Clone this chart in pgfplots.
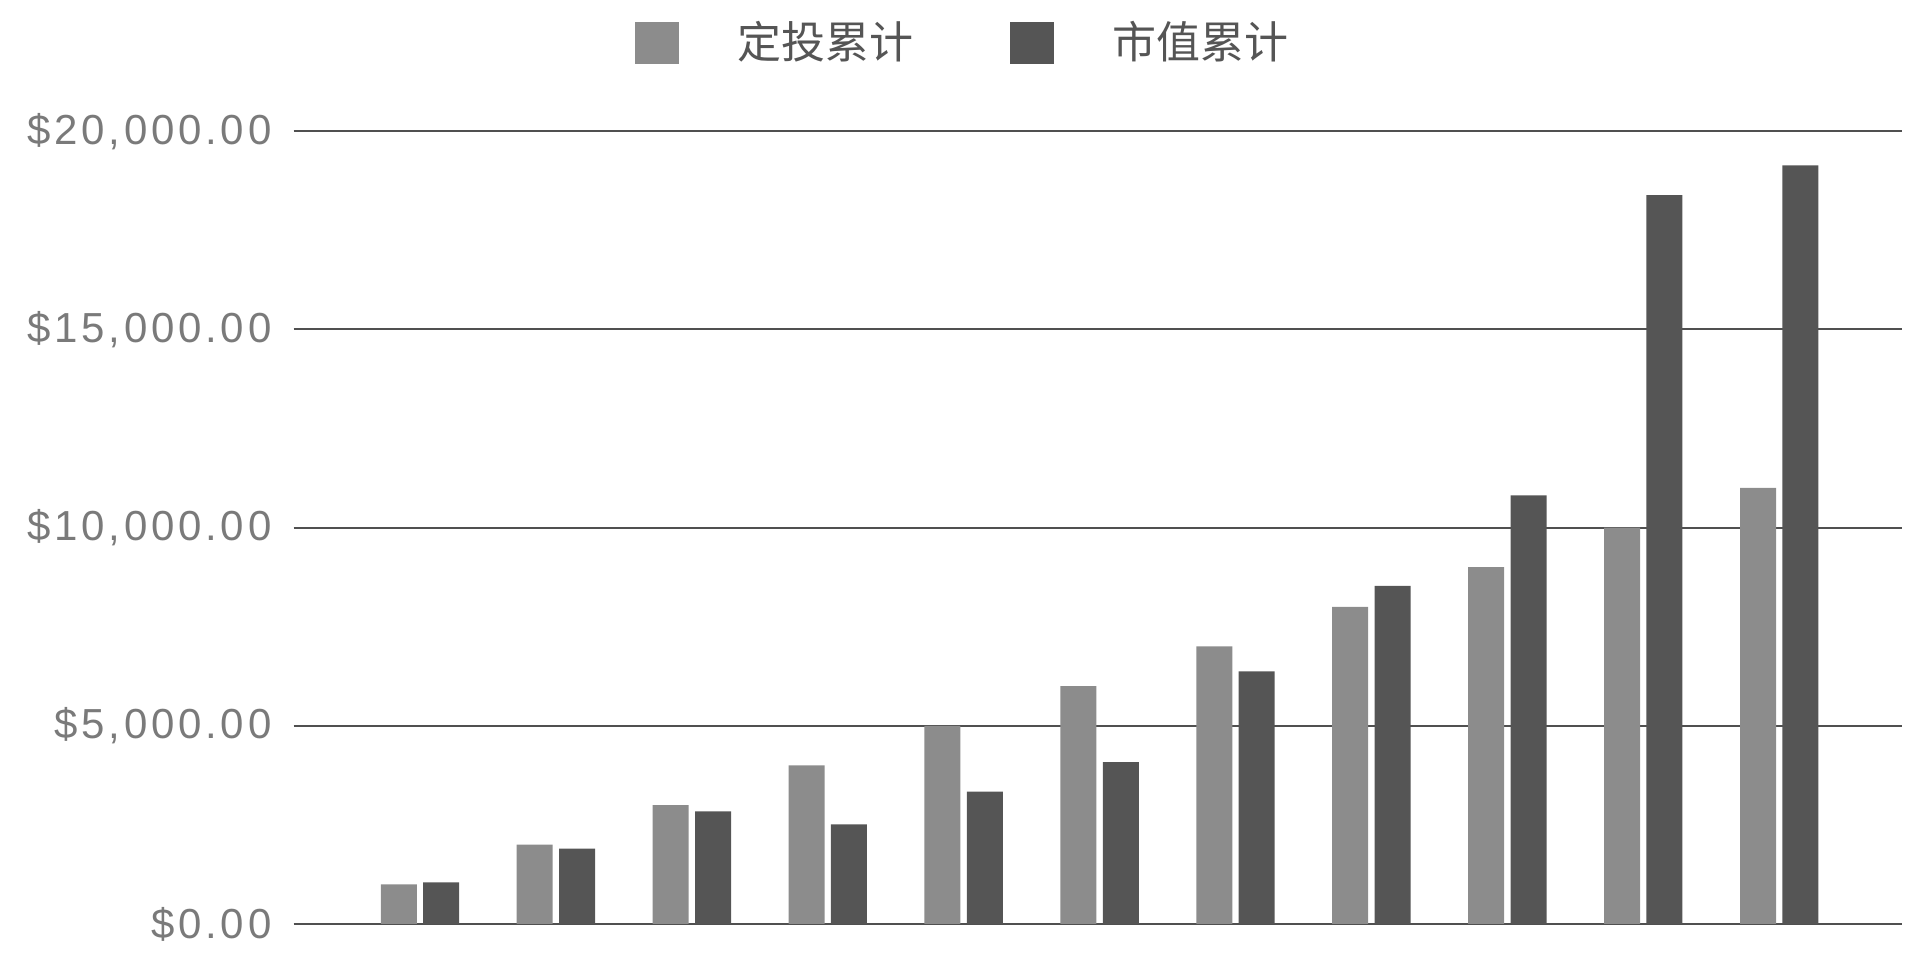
\documentclass[border=0pt]{standalone}
\usepackage{fontspec}
\setmainfont{Liberation Sans}
\newfontfamily\tickfont[LetterSpace=9]{Liberation Sans}
\newfontfamily\cjk{Noto Sans CJK SC}
\usepackage{pgfplots}
\pgfplotsset{compat=1.18}

\definecolor{invest}{HTML}{8C8C8C}
\definecolor{market}{HTML}{555555}
\definecolor{gridc}{HTML}{505050}
\definecolor{tickc}{HTML}{7A7A7A}

\begin{document}
\begin{tikzpicture}
\begin{axis}[
    scale only axis,
    width=402pt, height=198.2pt,
    ybar=1.6pt,
    bar width=9pt,
    xmin=-0.93, xmax=10.9,
    ymin=0, ymax=20000,
    xtick=\empty,
    ytick={0,5000,10000,15000,20000},
    scaled y ticks=false,
    yticklabels={{\$0.00},{\$5,000.00},{\$10,000.00},{\$15,000.00},{\$20,000.00}},
    yticklabel style={font=\tickfont\fontsize{10.5}{13}\selectfont, text=tickc, xshift=-2pt},
    major tick length=0pt,
    ymajorgrids,
    grid style={gridc, line width=0.5pt},
    axis line style={draw=none},
    clip=false,
    legend columns=2,
    legend style={at={(0.418,1.111)}, anchor=center, draw=none,
        font=\cjk\fontsize{11}{13}\selectfont, text=market,
        /tikz/every even column/.append style={column sep=22pt}},
    legend image code/.code={
        \fill[#1] (0pt,-5.2pt) rectangle (11pt,5.2pt);
        \path (23.7pt,0pt);
    },
]
\addplot[fill=invest, draw=none] coordinates {
    (0,1000) (1,2000) (2,3000) (3,4000) (4,5000) (5,6000)
    (6,7000) (7,8000) (8,9000) (9,10000) (10,11000)};
\addplot[fill=market, draw=none] coordinates {
    (0,1050) (1,1900) (2,2840) (3,2510) (4,3340) (5,4080)
    (6,6370) (7,8530) (8,10810) (9,18390) (10,19140)};
\legend{定投累计, 市值累计}
\path (rel axis cs:-0.1826,-0.0656) (rel axis cs:1.009,1.1655);
\end{axis}
\end{tikzpicture}
\end{document}
